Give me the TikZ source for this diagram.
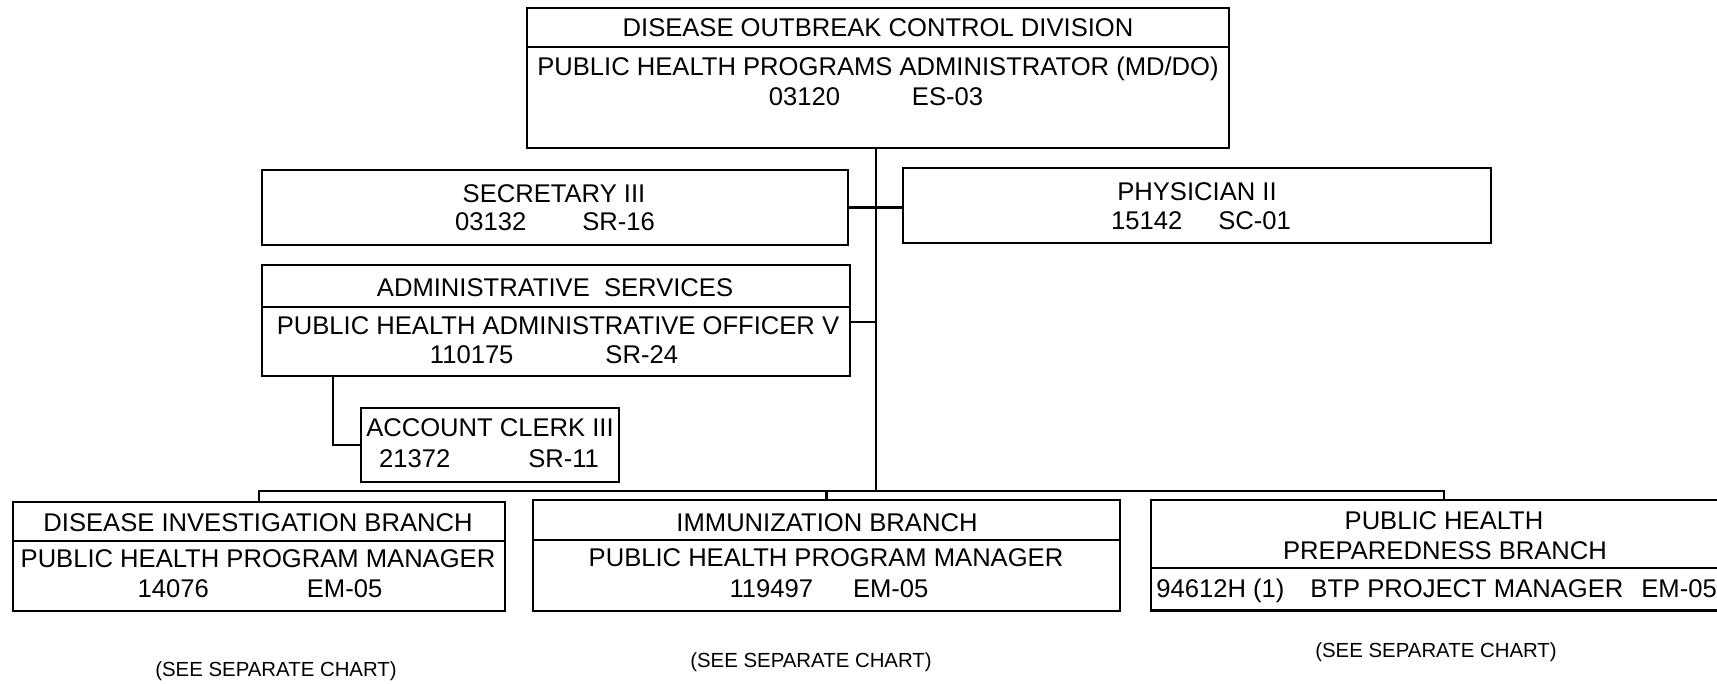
\documentclass[tikz,border=0pt]{standalone}
\usepackage{fontspec}
\setmainfont{Liberation Sans}
\usetikzlibrary{fit}
\begin{document}
\begin{tikzpicture}[x=0.5pt,y=-0.5pt,
  box/.style={draw, line width=1.1pt, inner sep=0pt},
  frame/.style={draw=none, inner sep=0pt},
  ln/.style={line width=1.1pt},
  dv/.style={line width=0.9pt},
  t/.style={font=\fontsize{12.8pt}{15pt}\selectfont, inner sep=0pt, text height=9.1pt, text depth=0pt},
  ts/.style={font=\fontsize{10.2pt}{12pt}\selectfont, inner sep=0pt, text height=7.3pt, text depth=0pt}]
\useasboundingbox[fill=white] (0,0) rectangle (1717,684);

% top box
\node[box, fit={(527,8)(1229,148)}] (top) {};
\draw[dv] (527,47) -- (1229,47);
\node[t] (topa) at (878,27) {DISEASE OUTBREAK CONTROL DIVISION};
\node[t] (topb) at (878,66) {PUBLIC HEALTH PROGRAMS ADMINISTRATOR (MD/DO)};
\node[t] (topc) at (876,96) {03120\hspace{36pt}ES-03};

% secretary
\node[box, fit={(262,170)(848,245)}] (sec) {};
\node[t] (seca) at (554,193) {SECRETARY III};
\node[t] (secb) at (555,221) {03132\hspace{28pt}SR-16};

% physician
\node[box, fit={(903,168)(1491,243)}] (phys) {};
\node[t] (physa) at (1197,191) {PHYSICIAN II};
\node[t] (physb) at (1201,220) {15142\hspace{18pt}SC-01};

% administrative services
\node[box, fit={(262,265)(850,376)}] (adm) {};
\draw[dv] (262,307) -- (850,307);
\node[t] (adma) at (555,287) {ADMINISTRATIVE\ \ SERVICES};
\node[t] (admb) at (558,325) {PUBLIC HEALTH ADMINISTRATIVE OFFICER V};
\node[t] (admc) at (554,354) {110175\hspace{46pt}SR-24};

% account clerk
\node[box, fit={(361,408)(619,482)}] (clk) {};
\node[t] (clka) at (490,427) {ACCOUNT CLERK III};
\node[t] (clkb) at (489,458) {21372\hspace{39pt}SR-11};

% disease investigation branch
\node[box, fit={(13,502)(505,611)}] (dib) {};
\draw[dv] (13,541) -- (505,541);
\node[t] (diba) at (258,522) {DISEASE INVESTIGATION BRANCH};
\node[t] (dibb) at (258,558) {PUBLIC HEALTH PROGRAM MANAGER};
\node[t] (dibc) at (260,588) {14076\hspace{49pt}EM-05};
\node[ts] (dibs) at (276,669) {(SEE SEPARATE CHART)};

% immunization branch
\node[box, fit={(533,500)(1120,611)}] (imm) {};
\draw[dv] (533,540) -- (1120,540);
\node[t] (imma) at (827,522) {IMMUNIZATION BRANCH};
\node[t] (immb) at (826,557) {PUBLIC HEALTH PROGRAM MANAGER};
\node[t] (immc) at (829,588) {119497\hspace{20pt}EM-05};
\node[ts] (imms) at (811,660) {(SEE SEPARATE CHART)};

% preparedness branch (cut off at right edge)
\node[frame, fit={(1151,500)(1717,610)}] (php) {};
\draw[ln] (php.north east) -- (php.north west) -- (php.south west) -- (php.south east);
\draw[dv] (1151,568) -- (1717,568);
\node[t] (phpa) at (1444,520) {PUBLIC HEALTH};
\node[t] (phpb) at (1445,550) {PREPAREDNESS BRANCH};
\node[t, anchor=west] (phpc) at (1156,588) {94612H (1)\hspace{13pt}BTP PROJECT MANAGER\hspace{9pt}EM-05};
\node[ts] (phps) at (1436,650) {(SEE SEPARATE CHART)};

% connectors
\coordinate (tr) at (876,491);
\coordinate (aj) at (876,322);
\coordinate (cx) at (333,0);
\coordinate (busR) at (1444,491);
\draw[ln] (top.south -| tr) -- (tr);
\draw[ln] (sec.east) -- (sec.east -| phys.west);
\draw[ln] (aj -| adm.east) -- (aj);
\draw[ln] (adm.south -| cx) |- (clk.west);
\draw[ln] (dib.north) -- (dib.north |- busR) -- (busR) -- (busR |- php.north);
\draw[ln] (imm.north) -- (imm.north |- busR);
\end{tikzpicture}
\end{document}
